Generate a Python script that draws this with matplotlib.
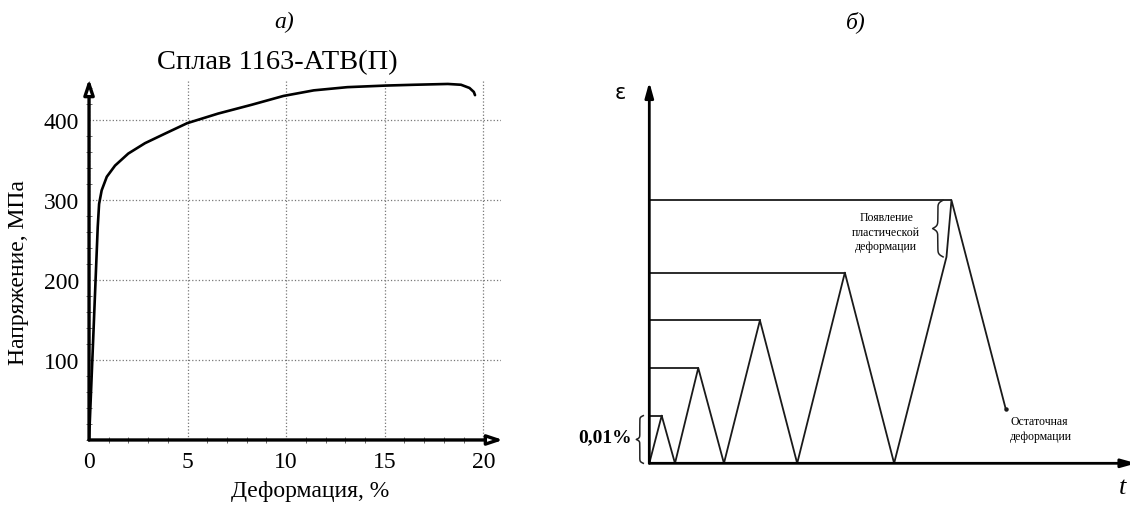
import numpy as np
import matplotlib
matplotlib.use("Agg")
import matplotlib.pyplot as plt
from matplotlib.ticker import MultipleLocator, FixedLocator

plt.rcParams['font.family'] = ['Liberation Serif', 'DejaVu Serif']

# --- a) кривая растяжения сплава 1163-АТВ(П)
strain = [0, 0.2, 0.44, 0.51, 0.64, 0.9, 1.32, 1.99, 2.84, 3.86, 4.98, 6.55,
          8.25, 9.86, 11.4, 13.1, 15.06, 16.5, 18.2, 18.87, 19.3, 19.52, 19.58]
stress = [0, 120, 266, 295, 312, 329, 343, 358, 371, 383, 396, 408,
          419, 430, 437, 441, 443, 444, 445, 444, 440, 435, 431]
x_ticks = [0, 5, 10, 15, 20]
y_ticks = [100, 200, 300, 400]

# --- б) схема циклического нагружения
t_pts = [0, 1.24, 2.57, 4.9, 7.47, 11.07, 14.8, 19.57, 24.5, 29.74, 30.24, 35.67]
eps_pts = [0, 1, 0, 2, 0, 3, 0, 4, 0, 4.33, 5.52, 1.14]
peak_idx = [1, 3, 5, 7, 10]
kink_idx = 9


def brace(ax, x, y0, y1, w, beta=60.0, **kw):
    # вертикальная фигурная скобка, остриё смотрит влево
    u = np.linspace(0, 0.5, 101)
    h = 1 / (1 + np.exp(-beta * (u - u[0]))) + 1 / (1 + np.exp(-beta * (u - u[-1])))
    h = np.concatenate((h, h[-2::-1])) - 0.5
    ys = np.linspace(y0, y1, len(h))
    ax.plot(x - w * h, ys, **kw)


fig = plt.figure(figsize=(11.3, 5.06), dpi=100)

# ---------- a)
ax1 = fig.add_axes([0.0788, 0.1285, 0.3646, 0.7115])
ax1.plot(strain, stress, color='black', lw=1.9, solid_capstyle='round')
ax1.set_xlim(0, 20.9)
ax1.set_ylim(0, 450)
ax1.set_xticks(x_ticks)
ax1.set_yticks(y_ticks)
ax1.xaxis.set_minor_locator(FixedLocator(range(0, 21)))
ax1.yaxis.set_minor_locator(MultipleLocator(20))
ax1.tick_params(which='major', length=0, labelsize=17, pad=8)
ax1.tick_params(axis='y', which='major', pad=7)
ax1.tick_params(which='minor', direction='inout', length=4, width=0.6, color='#555')
ax1.grid(True, which='major', linestyle=':', color='#777', lw=0.9)
for s in ax1.spines.values():
    s.set_visible(False)
arrow_open = dict(arrowstyle='-|>,head_length=0.9,head_width=0.3', lw=2.4,
                  fc='white', ec='black', shrinkA=0, shrinkB=0)
ax1.annotate('', xy=(0, 1.003), xytext=(0, 0), xycoords='axes fraction', arrowprops=arrow_open)
ax1.annotate('', xy=(1.005, 0), xytext=(0, 0), xycoords='axes fraction', arrowprops=arrow_open)
fig.text(19 / 1130, 1 - 273 / 506, 'Напряжение, МПа', fontsize=17, rotation=90,
         ha='center', va='center')
fig.text(310 / 1130, 1 - 492 / 506, 'Деформация, %', fontsize=17, ha='center', va='center')
fig.text(277 / 1130, 1 - 63 / 506, 'Сплав 1163-АТВ(П)', fontsize=20.5, ha='center', va='center')
fig.text(284 / 1130, 1 - 22 / 506, 'а)', fontsize=17, style='italic', ha='center', va='center')

# ---------- б)
ax2 = fig.add_axes([0.5746, 0.0824, 0.4227, 0.7536])
ax2.plot(t_pts, eps_pts, color='#1a1a1a', lw=1.3)
ax2.plot(t_pts[-1], eps_pts[-1], 'o', color='#1a1a1a', ms=2.2)
for i in peak_idx:
    ax2.plot([0, t_pts[i]], [eps_pts[i], eps_pts[i]], color='#1a1a1a', lw=1.3)
ax2.set_xlim(0, 47.8)
ax2.set_ylim(0, 8.0)
ax2.set_xticks([])
ax2.set_yticks([])
for s in ax2.spines.values():
    s.set_visible(False)
arrow_full = dict(arrowstyle='-|>,head_length=0.9,head_width=0.25', lw=2.0,
                  fc='black', ec='black', shrinkA=0, shrinkB=0)
ax2.annotate('', xy=(0, 1.0), xytext=(0, 0), xycoords='axes fraction', arrowprops=arrow_full)
ax2.annotate('', xy=(1.02, 0), xytext=(0, 0), xycoords='axes fraction', arrowprops=arrow_full)

brace(ax2, -0.6, 0, eps_pts[peak_idx[0]], 0.7, color='#222', lw=1.1, clip_on=False)
ax2.text(-1.75, 0.55, '0,01%', fontsize=14, fontweight='bold', ha='right', va='center')
brace(ax2, 29.4, eps_pts[kink_idx], eps_pts[peak_idx[-1]], 1.05, beta=40.0,
      color='#222', lw=1.1, clip_on=False)
ax2.text(23.7, 4.86, 'Появление\nпластической\nдеформации', fontsize=8.5,
         ha='center', va='center', linespacing=1.25)
ax2.text(36.1, 0.73, 'Остаточная\nдеформации', fontsize=8.5,
         ha='left', va='center', linespacing=1.25)
ax2.text(-2.95, 7.8, 'ε', fontsize=15, family=['DejaVu Sans'], ha='center', va='center')
fig.text(1119 / 1130, 1 - 488 / 506, 't', fontsize=19, style='italic', ha='left', va='center')
fig.text(856 / 1130, 1 - 22 / 506, 'б)', fontsize=17, style='italic', ha='center', va='center')

fig.savefig('out.png', dpi=100)
